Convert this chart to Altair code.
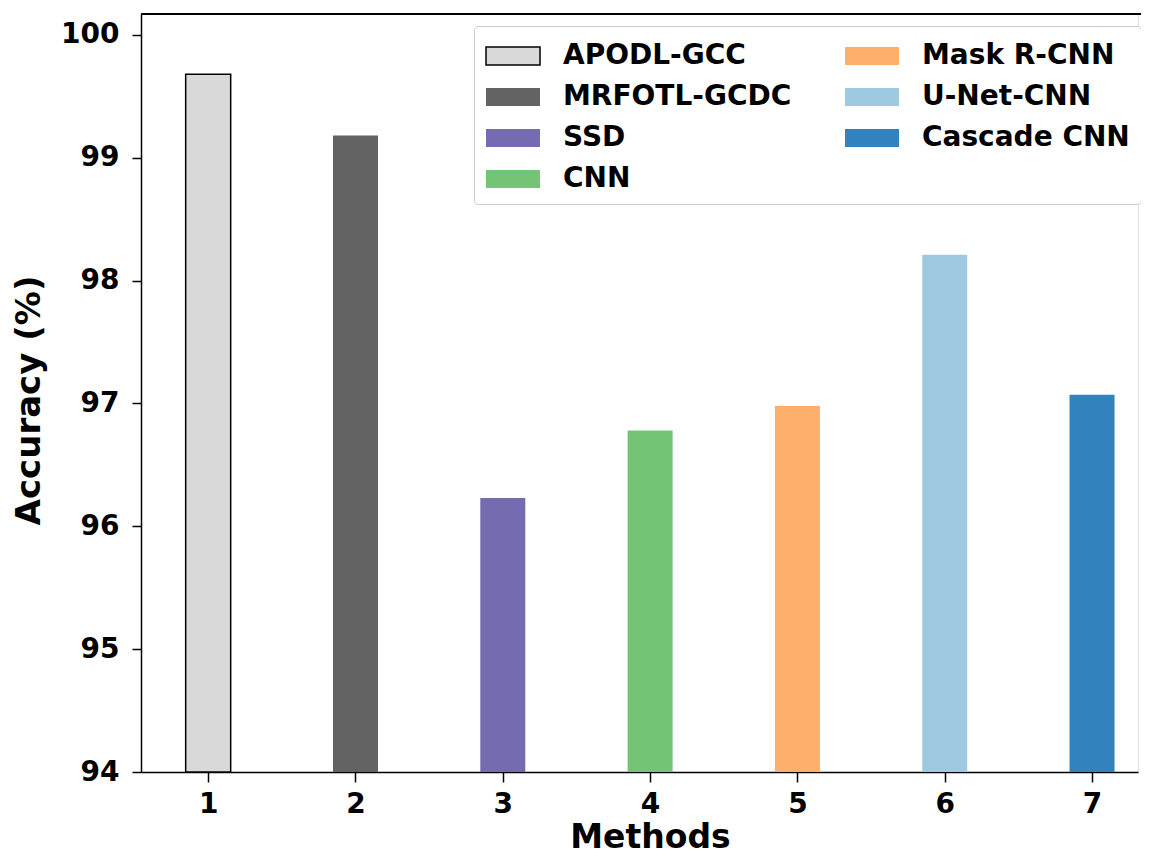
import altair as alt
import pandas as pd

methods = ["APODL-GCC", "MRFOTL-GCDC", "SSD", "CNN", "Mask R-CNN", "U-Net-CNN", "Cascade CNN"]
positions = [1, 2, 3, 4, 5, 6, 7]
accuracy = [99.68, 99.18, 96.23, 96.78, 96.98, 98.21, 97.07]
colors = ["#d9d9d9", "#636363", "#756bb1", "#74c476", "#fdae6b", "#9ecae1", "#3182bd"]
strokes = ["#000000", "transparent", "transparent", "transparent", "transparent", "transparent", "transparent"]
y_ticks = [94, 95, 96, 97, 98, 99, 100]

df = pd.DataFrame({"Method": methods, "pos": positions, "acc": accuracy, "base": [94] * len(methods)})

FONT = "DejaVu Sans"
W, H = 997, 758

legend = alt.Legend(
    title=None, orient="none", legendX=333, legendY=12, columns=2,
    symbolType="M-1,-0.5H2V0.5H-1Z", symbolSize=1296, symbolStrokeWidth=1.5,
    labelFont=FONT, labelFontSize=28, labelFontWeight="bold", labelColor="black",
    labelOffset=40, rowPadding=8, columnPadding=50, padding=11,
    strokeColor="#cccccc", fillColor="white", cornerRadius=4,
    symbolOpacity=1, labelLimit=400,
)

bars = alt.Chart(df).mark_bar(size=45, strokeWidth=1.5).encode(
    x=alt.X("pos:Q", scale=alt.Scale(domain=[0.544, 7.312], nice=False, zero=False, padding=0),
            axis=alt.Axis(values=positions, format="d", title="Methods", grid=False,
                          labelFont=FONT, labelFontSize=28, labelFontWeight="bold", labelColor="black",
                          labelPadding=8, tickSize=10, tickWidth=1.5, tickColor="black",
                          domainColor="black", domainWidth=1.5,
                          titleFont=FONT, titleFontSize=33, titleFontWeight="bold", titleColor="black",
                          titleX=509, titleY=75, titleBaseline="alphabetic", titleAlign="center")),
    y=alt.Y("acc:Q", scale=alt.Scale(domain=[94, 100.17], nice=False, zero=False, padding=0),
            axis=alt.Axis(values=y_ticks, title="Accuracy (%)", grid=False,
                          labelFont=FONT, labelFontSize=28, labelFontWeight="bold", labelColor="black",
                          labelPadding=13, tickSize=9, tickWidth=1.5, tickColor="black",
                          domainColor="black", domainWidth=1.5,
                          titleFont=FONT, titleFontSize=34, titleFontWeight="bold", titleColor="black",
                          titleX=-112, titleY=386, titleAngle=-90, titleBaseline="middle", titleAlign="center")),
    y2=alt.Y2("base:Q"),
    color=alt.Color("Method:N", scale=alt.Scale(domain=methods, range=colors), legend=legend, sort=methods),
    stroke=alt.Stroke("Method:N", scale=alt.Scale(domain=methods, range=strokes), legend=legend, sort=methods),
)

top = alt.Chart(df).mark_rule(color="black", strokeWidth=1.5).encode(
    x=alt.value(0), x2=alt.value(W + 3), y=alt.value(0)
)

chart = alt.layer(bars, top).properties(
    width=W, height=H,
    autosize=alt.AutoSizeParams(type="none"),
    padding={"left": 133, "top": 6, "right": 3, "bottom": 83},
).configure_view(stroke=None).configure(background="white")

chart.save("out.html", embed_options={"renderer": "svg", "actions": False})
